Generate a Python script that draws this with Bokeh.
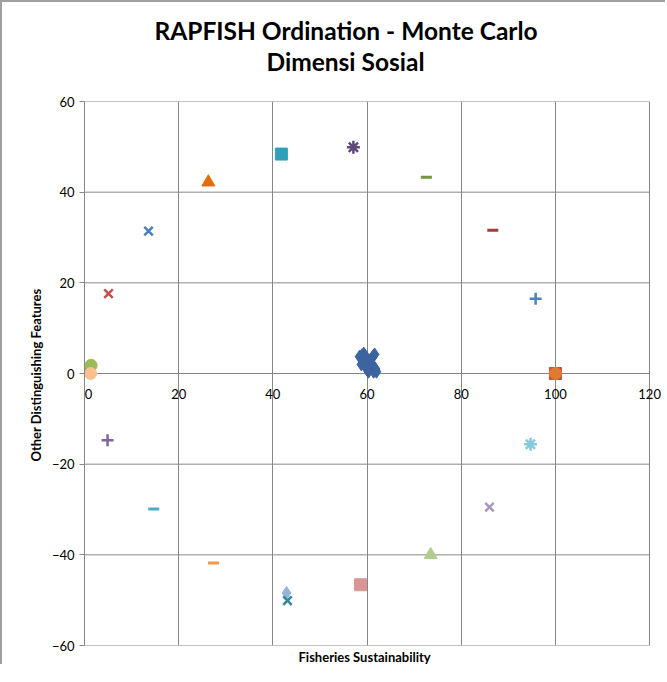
from bokeh.plotting import figure
from bokeh.models import Title, Range1d, FixedTicker, Label
from bokeh.embed import file_html
from bokeh.resources import INLINE

# ---- data ----
x_ticks = [0, 20, 40, 60, 80, 100, 120]
y_ticks = [-60, -40, -20, 0, 20, 40, 60]

# Monte Carlo cluster
mc_x = [58.4, 59.0, 59.5, 60.1, 60.7, 61.4, 62.0, 61.2, 61.6, 60.5, 59.9, 58.8, 60.3, 59.3, 61.0, 60.0, 58.9, 61.8]
mc_y = [3.7, 3.1, 2.4, 1.8, 1.1, 0.4, 0.4, 3.7, 4.2, 2.9, 3.5, 2.0, 0.4, 4.4, 2.2, 0.9, 4.0, 1.0]

# reference / anchor points
ref_x = [13.6, 26.3, 41.8, 57.1, 72.6, 86.7, 95.8, 5.1, 100.0, 100.0, 4.9, 94.7, 14.7, 86.0, 27.4, 73.5, 42.9, 43.1, 58.6, 0.8, 1.4, 1.3]
ref_y = [31.4, 42.2, 48.4, 49.9, 43.3, 31.6, 16.5, 17.6, 0.0, 0.0, -14.7, -15.6, -29.9, -29.5, -41.8, -40.0, -48.4, -50.1, -46.6, 0.6, 1.8, 0.0]

# ---- styles ----
ref_marker = ["x", "triangle", "square", "asterisk", "dash", "dash", "cross", "x", "square", "circle",
              "cross", "asterisk", "dash", "x", "dash", "triangle", "diamond", "x", "square", "triangle", "circle", "circle"]
ref_color = ["#4A7EBB", "#E46C0A", "#31A0B8", "#604A7B", "#77933C", "#A33D3A", "#4F81BD", "#C0504D", "#B9504A", "#E07A2E",
             "#8064A2", "#86C8DC", "#4BACC6", "#A699C0", "#F79646", "#B3CC8C", "#95B3D7", "#31859C", "#D99694", "#77A33C", "#9BBB59", "#FAC090"]
ref_size = {"x": 12, "triangle": 13, "square": 12, "asterisk": 13, "dash": 11, "cross": 12, "diamond": 13, "circle": 12}
line_markers = {"x", "asterisk", "dash", "cross"}

GRID = "#868686"
FONT = "Lato"

# a little room right of x=120 so its tick label is not clipped
p = figure(width=665, height=664, x_range=Range1d(x_ticks[0], 123.8), y_range=Range1d(y_ticks[0], y_ticks[-1]),
           output_backend="svg", toolbar_location=None,
           min_border_left=82, min_border_right=0, min_border_top=99, min_border_bottom=19)
p.styles = {"border-left": "2px solid #a0a0a0", "border-top": "2px solid #a0a0a0"}

p.outline_line_color = None
p.xgrid.ticker = FixedTicker(ticks=x_ticks)
p.xgrid.grid_line_color = GRID
p.xgrid.grid_line_width = 1
p.ygrid.grid_line_color = None

# horizontal grid lines (also plot top/bottom edges and the x axis at 0), limited to 0..120
n = len(y_ticks)
p.segment(x0=[x_ticks[0]] * n, x1=[x_ticks[-1]] * n, y0=y_ticks, y1=y_ticks,
          line_color=GRID, line_width=1)

p.xaxis.visible = False
p.yaxis.ticker = FixedTicker(ticks=y_ticks)
ax = p.yaxis
ax.axis_line_color = GRID
ax.major_tick_line_color = GRID
ax.major_tick_in = 0
ax.major_tick_out = 5
ax.minor_tick_line_color = None
ax.major_label_text_font = FONT
ax.major_label_text_font_size = "13px"
ax.major_label_text_color = "#000000"
ax.axis_label = "Other Distinguishing  Features"
ax.axis_label_text_font = FONT
ax.axis_label_text_font_style = "bold"
ax.axis_label_text_font_size = "13px"
ax.axis_label_text_color = "#000000"
ax.axis_label_standoff = 5

for t in x_ticks:
    p.add_layout(Label(x=t, y=0, text=str(t), y_offset=-15, x_offset=4 if t == x_ticks[0] else 0,
                       text_align="center", text_baseline="top",
                       text_font=FONT, text_font_size="13px", text_color="#000000"))

p.add_layout(Title(text="Fisheries Sustainability", align="left", offset=214, text_font=FONT,
                   text_font_style="bold", text_font_size="13px", text_color="#000000",
                   standoff=3), "below")
p.add_layout(Title(text=" ", align="left", text_font=FONT, text_font_size="20px", standoff=0), "above")
p.add_layout(Title(text="Dimensi Sosial", align="left", offset=182, text_font=FONT,
                   text_font_style="bold", text_font_size="24.5px", text_color="#000000",
                   standoff=0), "above")
p.add_layout(Title(text="RAPFISH Ordination - Monte Carlo", align="left", offset=70, text_font=FONT,
                   text_font_style="bold", text_font_size="24.5px", text_color="#000000",
                   standoff=0), "above")

# Monte Carlo points
p.scatter(mc_x, mc_y, marker="diamond", size=13, fill_color="#3B64A0", line_color="#3B64A0")

for x, y, m, c in zip(ref_x, ref_y, ref_marker, ref_color):
    if m in line_markers:
        p.scatter([x], [y], marker=m, size=ref_size[m], line_color=c, line_width=3 if m == "dash" else 2.5)
    else:
        p.scatter([x], [y], marker=m, size=ref_size[m], fill_color=c, line_color=c)

open("out.html", "w").write(file_html(p, INLINE))
